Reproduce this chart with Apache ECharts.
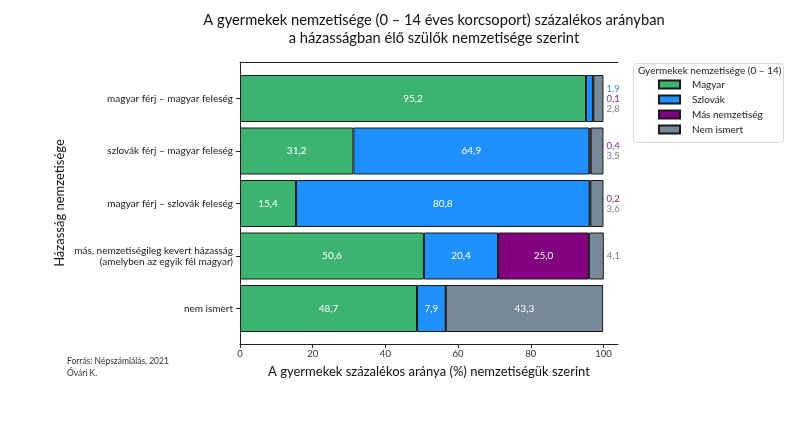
<!DOCTYPE html>
<html>
<head>
<meta charset="utf-8">
<script src="https://cdn.jsdelivr.net/npm/echarts@6/dist/echarts.min.js"></script>
<style>html,body{margin:0;padding:0;background:#fff}#c{width:800px;height:425px}</style>
</head>
<body>
<div id="c"></div>
<script>
const categories = [
  'magyar férj – magyar feleség',
  'szlovák férj – magyar feleség',
  'magyar férj – szlovák feleség',
  'más, nemzetiségileg kevert házasság\n(amelyben az egyik fél magyar)',
  'nem ismert'
];
const seriesNames = ['Magyar', 'Szlovák', 'Más nemzetiség', 'Nem ismert'];
const magyar = [95.2, 31.2, 15.4, 50.6, 48.7];
const szlovak = [1.9, 64.9, 80.8, 20.4, 7.9];
const mas = [0.1, 0.4, 0.2, 25.0, 0];
const nemIsmert = [2.8, 3.5, 3.6, 4.1, 43.3];
const xTicks = [0, 20, 40, 60, 80, 100];

const colors = ['#3CB371', '#1E90FF', '#800080', '#778899'];
const outColors = ['#3a8fd6', '#7b2a8c', '#7a7f86'];
const FONT = 'Lato';
const fmt = v => v.toFixed(1).replace('.', ',');
const INSIDE_MIN = 5;

const allVals = [magyar, szlovak, mas, nemIsmert];

function insideLabel() {
  return {
    show: true, position: 'inside', color: '#fff', fontSize: 10, fontFamily: FONT,
    formatter: p => (p.value >= INSIDE_MIN ? fmt(p.value) : '')
  };
}

const series = allVals.map((arr, si) => {
  const data = arr.map((v, i) => {
    if (si !== 3) return v;
    // small values of this row shown outside the bar, on the right
    const smalls = [];
    [szlovak, mas, nemIsmert].forEach((a, k) => {
      if (a[i] > 0 && a[i] < INSIDE_MIN) smalls.push('{c' + k + '|' + fmt(a[i]) + '}');
    });
    if (smalls.length && v < INSIDE_MIN) {
      return {
        value: v,
        label: {
          show: true, position: 'right', distance: 3,
          formatter: smalls.join('\n'),
          rich: {
            c0: {color: outColors[0], fontSize: 9.5, fontFamily: FONT, lineHeight: 10},
            c1: {color: outColors[1], fontSize: 9.5, fontFamily: FONT, lineHeight: 10},
            c2: {color: outColors[2], fontSize: 9.5, fontFamily: FONT, lineHeight: 10}
          }
        }
      };
    }
    return v;
  });
  return {
    name: seriesNames[si], type: 'bar', stack: 'total',
    xAxisIndex: 0, yAxisIndex: 0,
    barWidth: 47,
    itemStyle: {color: colors[si], borderColor: '#1a1a1a', borderWidth: 1},
    label: insideLabel(),
    emphasis: {disabled: true},
    data: data
  };
});

const chart = echarts.init(document.getElementById('c'), null, {renderer: 'canvas'});
chart.setOption({
  animation: false,
  textStyle: {fontFamily: FONT},
  title: [
    {
      text: 'A gyermekek nemzetisége (0 – 14 éves korcsoport) százalékos arányban\na házasságban élő szülők nemzetisége szerint',
      left: 429, top: 6, textAlign: 'center',
      textStyle: {fontSize: 14.7, fontWeight: 'normal', color: '#111', fontFamily: FONT, lineHeight: 18}
    },
    {
      text: 'Forrás: Népszámlálás, 2021\nÓvári K.',
      left: 62, top: 350,
      textStyle: {fontSize: 8.5, fontWeight: 'normal', color: '#333', fontFamily: FONT, lineHeight: 12}
    }
  ],
  grid: [
    {left: 240, right: 182, top: 72.25, height: 262.5},
    {left: 240, right: 182, top: 62, bottom: 81}
  ],
  xAxis: [
    {gridIndex: 0, type: 'value', min: 0, max: 104, show: false},
    {
      gridIndex: 1, type: 'value', min: 0, max: 104, position: 'bottom',
      axisLine: {show: true, lineStyle: {color: '#222', width: 1}},
      axisTick: {show: true, length: 4, customValues: xTicks, lineStyle: {color: '#222'}},
      axisLabel: {customValues: xTicks, fontSize: 9.5, color: '#333', margin: 5, fontFamily: FONT},
      splitLine: {show: false},
      name: 'A gyermekek százalékos aránya (%) nemzetiségük szerint',
      nameLocation: 'middle', nameGap: 21,
      nameTextStyle: {fontSize: 13, color: '#111', fontFamily: FONT}
    },
    {
      gridIndex: 1, type: 'value', min: 0, max: 104, position: 'top',
      axisLine: {show: true, lineStyle: {color: '#222', width: 1}},
      axisTick: {show: false}, axisLabel: {show: false}, splitLine: {show: false}
    }
  ],
  yAxis: [
    {
      gridIndex: 0, type: 'category', data: categories, inverse: true,
      axisLine: {show: false},
      axisTick: {show: true, length: 4, alignWithLabel: true, lineStyle: {color: '#222'}},
      axisLabel: {fontSize: 10, color: '#222', margin: 7, lineHeight: 11, fontFamily: FONT, align: 'right'}
    },
    {
      gridIndex: 1, type: 'value', min: 0, max: 1,
      axisLine: {show: true, lineStyle: {color: '#222', width: 1}},
      axisTick: {show: false}, axisLabel: {show: false}, splitLine: {show: false},
      name: 'Házasság nemzetisége', nameLocation: 'middle', nameGap: 174,
      nameTextStyle: {fontSize: 13, color: '#111', fontFamily: FONT}
    }
  ],
  legend: {
    data: seriesNames, orient: 'vertical', left: 658, top: 78.5,
    padding: 0, itemWidth: 21, itemHeight: 8, itemGap: 3,
    icon: 'rect',
    textStyle: {fontSize: 10, color: '#222', fontFamily: FONT, lineHeight: 12, padding: [0, 0, 0, 7]}
  },
  graphic: [
    {
      type: 'rect', left: 633, top: 63, z: -1,
      shape: {width: 150, height: 79, r: 3},
      style: {fill: '#fff', stroke: '#d8d8d8', lineWidth: 1}
    },
    {
      type: 'text', left: 638, top: 66,
      style: {text: 'Gyermekek nemzetisége (0 – 14)', fontSize: 10, fill: '#222', fontFamily: FONT}
    }
  ],
  series: series
});
</script>
</body>
</html>
